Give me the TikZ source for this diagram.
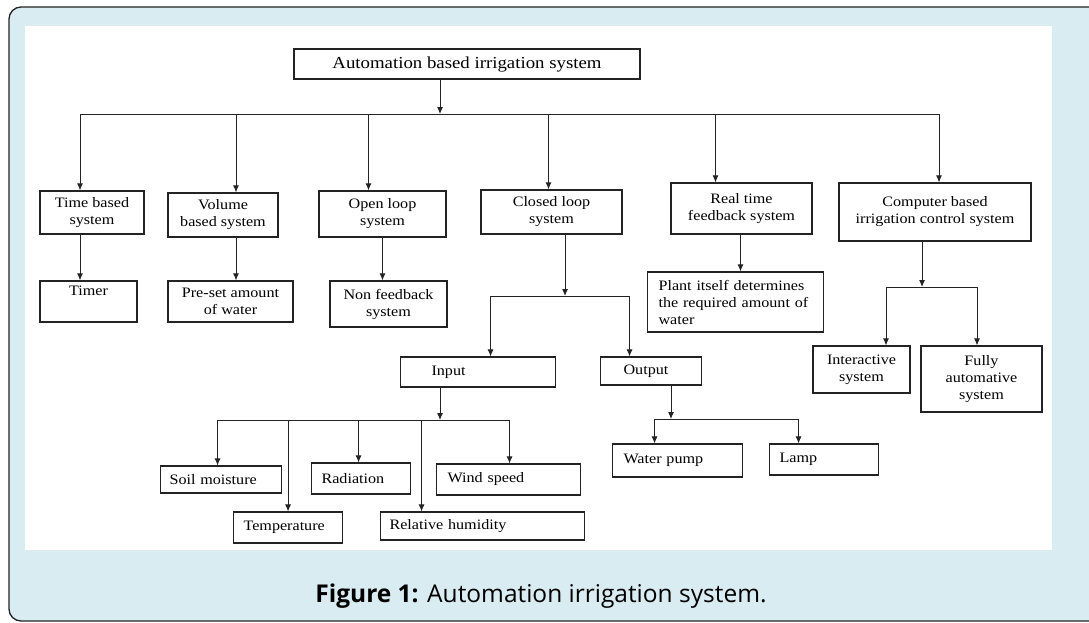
\documentclass[tikz,border=0pt]{standalone}
\usepackage{fontspec}
\setmainfont{Liberation Serif}[FakeStretch=1.12]
\newfontfamily\capfont{Open Sans}
\usetikzlibrary{arrows.meta}
\definecolor{panelblue}{RGB}{216,236,241}
\definecolor{inkgray}{RGB}{35,35,35}
\tikzset{
  >={Latex[length=7pt,width=6pt]},
}
\tikzstyle{box}=[draw=inkgray,line width=1.1pt,inner sep=0pt,align=center,font=\fontsize{14.4}{17}\selectfont]
\tikzstyle{lbox}=[box,align=left,anchor=west]
\tikzstyle{link}=[draw=inkgray,line width=1pt]

\begin{document}
\begin{tikzpicture}[x=1pt,y=-1pt]
  \useasboundingbox (0,0) rectangle (1089,622);
  % frame and panel
  \draw[fill=panelblue,draw=inkgray,line width=1.3pt,rounded corners=12] (9,7) rectangle (1120,621);
  \fill[white] (25,26) rectangle (1052,550);
  \node[font=\capfont\fontsize{24.5}{29}\selectfont] (caption) at (541,596) {\textbf{Figure 1:} Automation irrigation system.};

  % boxes
  \node[box,minimum width=346,minimum height=30,font=\fontsize{16.8}{20}\selectfont] (top) at (467,64) {Automation based irrigation system};
  \node[box,minimum width=104,minimum height=43] (time) at (92,212.5) {Time based\\system};
  \node[box,minimum width=110,minimum height=44] (volume) at (223,215) {Volume\\based system};
  \node[box,minimum width=127,minimum height=46] (open) at (382.5,214) {Open loop\\system};
  \node[box,minimum width=141,minimum height=44] (closed) at (551.5,212) {Closed loop\\system};
  \node[box,minimum width=141,minimum height=51] (real) at (741.5,208.5) {Real time\\feedback system};
  \node[box,minimum width=192,minimum height=58] (computer) at (935,212) {Computer based\\irrigation control system};

  \node[box,minimum width=97,minimum height=41] (timer) at (88.5,301.5) {Timer\\[4pt]};
  \node[box,minimum width=125,minimum height=41] (preset) at (230.5,301.5) {Pre-set amount\\of water};
  \node[box,minimum width=117,minimum height=46] (nonfb) at (388.5,304) {Non feedback\\system};
  \node[lbox,minimum height=60,inner xsep=11,text width=154] (plant) at (647,302) {Plant itself determines\\the required amount of\\water};
  \node[box,minimum width=97,minimum height=47] (interactive) at (861.5,369.5) {Interactive\\system};
  \node[box,minimum width=121,minimum height=66] (fully) at (981.5,379) {Fully\\automative\\system};

  \node[lbox,minimum height=30,inner xsep=31,text width=93] (input) at (400,372) {Input};
  \node[lbox,minimum height=28,inner xsep=23,text width=55] (output) at (600,371) {Output};

  \node[lbox,minimum height=27,inner xsep=9,text width=103] (soil) at (160,479.5) {Soil moisture};
  \node[lbox,minimum height=31,inner xsep=10,text width=89] (temp) at (233,527.5) {Temperature};
  \node[lbox,minimum height=31,inner xsep=10,text width=79] (radiation) at (311,478.5) {Radiation};
  \node[lbox,minimum height=28,inner xsep=9,text width=186] (relhum) at (380,526) {Relative humidity};
  \node[lbox,minimum height=31,inner xsep=11,text width=122] (wind) at (436,479.5) {Wind speed};
  \node[lbox,minimum height=33,inner xsep=11,text width=108] (pump) at (612,460.5) {Water pump};
  \node[lbox,minimum height=31,inner xsep=10,text width=89] (lamp) at (769,459.5) {Lamp};

  % first level
  \coordinate (bus1) at (440,114);
  \draw[link,->] (top.south -| bus1) -- (bus1);
  \foreach \n/\s in {time/-12,volume/13,open/-14,closed/-3,real/-26,computer/4}{
    \coordinate (\n-in) at ([xshift=\s]\n.north);
    \draw[link,->] (\n-in |- bus1) -- (\n-in);
  }
  \draw[link] (time-in |- bus1) -- (computer-in |- bus1);

  % single children
  \foreach \p/\c/\s in {time/timer/-12,volume/preset/13,open/nonfb/0,real/plant/-1}{
    \coordinate (\p-out) at ([xshift=\s]\p.south);
    \draw[link,->] (\p-out) -- (\p-out |- \c.north);
  }

  % closed loop
  \coordinate (bus2) at (565,296);
  \draw[link,->] (closed.south -| bus2) -- (bus2);
  \foreach \n/\s in {input/12.5,output/-21.5}{
    \coordinate (\n-in) at ([xshift=\s]\n.north);
    \draw[link,->] (\n-in |- bus2) -- (\n-in);
  }
  \draw[link] (input-in |- bus2) -- (output-in |- bus2);

  % computer based
  \coordinate (bus3) at (922,287);
  \draw[link,->] (computer.south -| bus3) -- (bus3);
  \foreach \n/\s in {interactive/24.5,fully/-4.5}{
    \coordinate (\n-in) at ([xshift=\s]\n.north);
    \draw[link,->] (\n-in |- bus3) -- (\n-in);
  }
  \draw[link] (interactive-in |- bus3) -- (fully-in |- bus3);

  % input
  \coordinate (bus4) at (440,420);
  \draw[link,->] (input.south -| bus4) -- (bus4);
  \foreach \n/\s in {soil/-3.5,temp/0,radiation/-2.5,relhum/-61,wind/1}{
    \coordinate (\n-in) at ([xshift=\s]\n.north);
    \draw[link,->] (\n-in |- bus4) -- (\n-in);
  }
  \draw[link] (soil-in |- bus4) -- (wind-in |- bus4);

  % output
  \coordinate (bus5) at (671,419);
  \draw[link,->] (output.south -| bus5) -- (bus5);
  \foreach \n/\s in {pump/-23,lamp/-25.5}{
    \coordinate (\n-in) at ([xshift=\s]\n.north);
    \draw[link,->] (\n-in |- bus5) -- (\n-in);
  }
  \draw[link] (pump-in |- bus5) -- (lamp-in |- bus5);
\end{tikzpicture}
\end{document}
